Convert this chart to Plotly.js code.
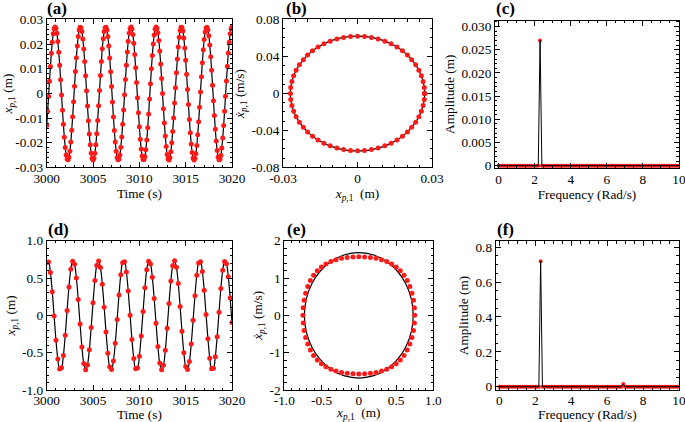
<!DOCTYPE html>
<html>
<head>
<meta charset="utf-8">
<script src="https://cdn.plot.ly/plotly-3.0.1.min.js"></script>
<style>html,body{margin:0;padding:0;background:#fff;}#chart{width:685px;height:422px;}</style>
</head>
<body>
<div id="chart"></div>
<script>
// ---- (a) time history, small amplitude ----
const timeA = [
3000,3000.1,3000.2,3000.3,3000.4,3000.5,3000.6,3000.7,3000.8,3000.9,
3001,3001.1,3001.2,3001.3,3001.4,3001.5,3001.6,3001.7,3001.8,3001.9,
3002,3002.1,3002.2,3002.3,3002.4,3002.5,3002.6,3002.7,3002.8,3002.9,
3003,3003.1,3003.2,3003.3,3003.4,3003.5,3003.6,3003.7,3003.8,3003.9,
3004,3004.1,3004.2,3004.3,3004.4,3004.5,3004.6,3004.7,3004.8,3004.9,
3005,3005.1,3005.2,3005.3,3005.4,3005.5,3005.6,3005.7,3005.8,3005.9,
3006,3006.1,3006.2,3006.3,3006.4,3006.5,3006.6,3006.7,3006.8,3006.9,
3007,3007.1,3007.2,3007.3,3007.4,3007.5,3007.6,3007.7,3007.8,3007.9,
3008,3008.1,3008.2,3008.3,3008.4,3008.5,3008.6,3008.7,3008.8,3008.9,
3009,3009.1,3009.2,3009.3,3009.4,3009.5,3009.6,3009.7,3009.8,3009.9,
3010,3010.1,3010.2,3010.3,3010.4,3010.5,3010.6,3010.7,3010.8,3010.9,
3011,3011.1,3011.2,3011.3,3011.4,3011.5,3011.6,3011.7,3011.8,3011.9,
3012,3012.1,3012.2,3012.3,3012.4,3012.5,3012.6,3012.7,3012.8,3012.9,
3013,3013.1,3013.2,3013.3,3013.4,3013.5,3013.6,3013.7,3013.8,3013.9,
3014,3014.1,3014.2,3014.3,3014.4,3014.5,3014.6,3014.7,3014.8,3014.9,
3015,3015.1,3015.2,3015.3,3015.4,3015.5,3015.6,3015.7,3015.8,3015.9,
3016,3016.1,3016.2,3016.3,3016.4,3016.5,3016.6,3016.7,3016.8,3016.9,
3017,3017.1,3017.2,3017.3,3017.4,3017.5,3017.6,3017.7,3017.8,3017.9,
3018,3018.1,3018.2,3018.3,3018.4,3018.5,3018.6,3018.7,3018.8,3018.9,
3019,3019.1,3019.2,3019.3,3019.4,3019.5,3019.6,3019.7,3019.8,3019.9,
3020];
const dispA = [
-0.0130,-0.0073,-0.0012,0.0050,0.0109,0.0163,0.0208,0.0242,0.0263,0.0270,
0.0264,0.0244,0.0211,0.0167,0.0115,0.0056,-0.0006,-0.0068,-0.0125,-0.0177,
-0.0219,-0.0249,-0.0266,-0.0269,-0.0258,-0.0234,-0.0197,-0.0149,-0.0094,-0.0033,
0.0029,0.0089,0.0145,0.0193,0.0231,0.0257,0.0269,0.0267,0.0251,0.0221,
0.0180,0.0130,0.0072,0.0011,-0.0051,-0.0110,-0.0164,-0.0208,-0.0242,-0.0263,
-0.0270,-0.0263,-0.0242,-0.0208,-0.0163,-0.0109,-0.0050,0.0012,0.0073,0.0130,
0.0181,0.0222,0.0251,0.0267,0.0269,0.0257,0.0231,0.0193,0.0144,0.0088,
0.0028,-0.0034,-0.0095,-0.0150,-0.0197,-0.0234,-0.0259,-0.0269,-0.0266,-0.0249,
-0.0218,-0.0176,-0.0125,-0.0067,-0.0005,0.0057,0.0115,0.0168,0.0212,0.0245,
0.0264,0.0270,0.0261,0.0239,0.0204,0.0158,0.0104,0.0045,-0.0017,-0.0078,
-0.0135,-0.0185,-0.0225,-0.0253,-0.0268,-0.0268,-0.0255,-0.0228,-0.0189,-0.0139,
-0.0083,-0.0022,0.0040,0.0100,0.0154,0.0201,0.0237,0.0260,0.0270,0.0265,
0.0246,0.0215,0.0172,0.0120,0.0061,0.0000,-0.0062,-0.0120,-0.0172,-0.0215,
-0.0247,-0.0265,-0.0270,-0.0260,-0.0236,-0.0200,-0.0154,-0.0099,-0.0039,0.0023,
0.0084,0.0140,0.0189,0.0228,0.0255,0.0269,0.0268,0.0253,0.0225,0.0184,
0.0135,0.0078,0.0016,-0.0045,-0.0105,-0.0159,-0.0205,-0.0239,-0.0262,-0.0270,
-0.0264,-0.0244,-0.0211,-0.0167,-0.0115,-0.0056,0.0006,0.0068,0.0125,0.0177,
0.0219,0.0249,0.0266,0.0269,0.0258,0.0234,0.0197,0.0149,0.0094,0.0033,
-0.0029,-0.0089,-0.0145,-0.0193,-0.0231,-0.0257,-0.0269,-0.0267,-0.0251,-0.0221,
-0.0180,-0.0130,-0.0072,-0.0011,0.0051,0.0110,0.0164,0.0208,0.0242,0.0263,
0.0270];

// ---- (b) phase portrait, small amplitude ----
const phaseBx = [
0.0270,0.0269,0.0264,0.0257,0.0247,0.0234,0.0218,0.0201,0.0181,0.0159,0.0135,0.0110,0.0083,0.0056,0.0028,0,
-0.0028,-0.0056,-0.0083,-0.0110,-0.0135,-0.0159,-0.0181,-0.0201,-0.0218,-0.0234,-0.0247,-0.0257,-0.0264,-0.0269,-0.0270,
-0.0269,-0.0264,-0.0257,-0.0247,-0.0234,-0.0218,-0.0201,-0.0181,-0.0159,-0.0135,-0.0110,-0.0083,-0.0056,-0.0028,0,
0.0028,0.0056,0.0083,0.0110,0.0135,0.0159,0.0181,0.0201,0.0218,0.0234,0.0247,0.0257,0.0264,0.0269,0.0270];
const phaseBv = [
0,0.0065,0.0129,0.0192,0.0252,0.0310,0.0364,0.0415,0.0461,0.0502,0.0537,0.0566,0.0590,0.0606,0.0617,0.0620,
0.0617,0.0606,0.0590,0.0566,0.0537,0.0502,0.0461,0.0415,0.0364,0.0310,0.0252,0.0192,0.0129,0.0065,0,
-0.0065,-0.0129,-0.0192,-0.0252,-0.0310,-0.0364,-0.0415,-0.0461,-0.0502,-0.0537,-0.0566,-0.0590,-0.0606,-0.0617,-0.0620,
-0.0617,-0.0606,-0.0590,-0.0566,-0.0537,-0.0502,-0.0461,-0.0415,-0.0364,-0.0310,-0.0252,-0.0192,-0.0129,-0.0065,0];

// ---- (c),(f) spectra ----
const freq = [
0,0.1,0.2,0.3,0.4,0.5,0.6,0.7,0.8,0.9,1,1.1,1.2,1.3,1.4,1.5,1.6,1.7,1.8,1.9,
2,2.1,2.2,2.3,2.4,2.5,2.6,2.7,2.8,2.9,3,3.1,3.2,3.3,3.4,3.5,3.6,3.7,3.8,3.9,
4,4.1,4.2,4.3,4.4,4.5,4.6,4.7,4.8,4.9,5,5.1,5.2,5.3,5.4,5.5,5.6,5.7,5.8,5.9,
6,6.1,6.2,6.3,6.4,6.5,6.6,6.7,6.8,6.9,7,7.1,7.2,7.3,7.4,7.5,7.6,7.7,7.8,7.9,
8,8.1,8.2,8.3,8.4,8.5,8.6,8.7,8.8,8.9,9,9.1,9.2,9.3,9.4,9.5,9.6,9.7,9.8,9.9,10];
const ampC = [
0,0,0,0,0,0,0,0,0,0,0,0,0,0,0,0,0,0,0,0,
0,0,0,0.027,0,0,0,0,0,0,0,0,0,0,0,0,0,0,0,0,
0,0,0,0,0,0,0,0,0,0,0,0,0,0,0,0,0,0,0,0,
0,0,0,0,0,0,0,0,0,0,0,0,0,0,0,0,0,0,0,0,
0,0,0,0,0,0,0,0,0,0,0,0,0,0,0,0,0,0,0,0,0];
const ampF = [
0,0,0,0,0,0,0,0,0,0,0,0,0,0,0,0,0,0,0,0,
0,0,0,0.72,0,0,0,0,0,0,0,0,0,0,0,0,0,0,0,0,
0,0,0,0,0,0,0,0,0,0,0,0,0,0,0,0,0,0,0,0,
0,0,0,0,0,0,0,0,0,0.015,0,0,0,0,0,0,0,0,0,0,
0,0,0,0,0,0,0,0,0,0,0,0,0,0,0,0,0,0,0,0,0];

// ---- (d) time history, large amplitude ----
const timeD = [
3000,3000.2,3000.4,3000.6,3000.8,3001,3001.2,3001.4,3001.6,3001.8,
3002,3002.2,3002.4,3002.6,3002.8,3003,3003.2,3003.4,3003.6,3003.8,
3004,3004.2,3004.4,3004.6,3004.8,3005,3005.2,3005.4,3005.6,3005.8,
3006,3006.2,3006.4,3006.6,3006.8,3007,3007.2,3007.4,3007.6,3007.8,
3008,3008.2,3008.4,3008.6,3008.8,3009,3009.2,3009.4,3009.6,3009.8,
3010,3010.2,3010.4,3010.6,3010.8,3011,3011.2,3011.4,3011.6,3011.8,
3012,3012.2,3012.4,3012.6,3012.8,3013,3013.2,3013.4,3013.6,3013.8,
3014,3014.2,3014.4,3014.6,3014.8,3015,3015.2,3015.4,3015.6,3015.8,
3016,3016.2,3016.4,3016.6,3016.8,3017,3017.2,3017.4,3017.6,3017.8,
3018,3018.2,3018.4,3018.6,3018.8,3019,3019.2,3019.4,3019.6,3019.8,
3020];
const dispD = [
0.707,0.715,0.574,0.315,-0.010,-0.333,-0.586,-0.718,-0.702,-0.539,
-0.265,0.064,0.380,0.617,0.726,0.685,0.501,0.214,-0.117,-0.425,
-0.644,-0.730,-0.664,-0.461,-0.162,0.170,0.467,0.668,0.729,0.640,
0.418,0.109,-0.222,-0.508,-0.688,-0.725,-0.612,-0.372,-0.055,0.273,
0.545,0.704,0.717,0.581,0.325,0.001,-0.323,-0.579,-0.716,-0.705,
-0.547,-0.276,0.053,0.370,0.611,0.725,0.688,0.509,0.225,-0.106,
-0.416,-0.639,-0.729,-0.669,-0.469,-0.173,0.160,0.459,0.663,0.730,
0.645,0.427,0.120,-0.212,-0.500,-0.684,-0.726,-0.618,-0.382,-0.066,
0.263,0.538,0.701,0.719,0.588,0.335,0.012,-0.312,-0.573,-0.714,
-0.707,-0.554,-0.286,0.042,0.360,0.605,0.723,0.692,0.518,0.236,
-0.095];

// ---- (e) phase portrait, large amplitude ----
const phaseEx = [
0.750,0.746,0.734,0.713,0.685,0.650,0.607,0.557,0.502,0.441,0.375,0.305,0.232,0.156,0.078,0,
-0.078,-0.156,-0.232,-0.305,-0.375,-0.441,-0.502,-0.557,-0.607,-0.650,-0.685,-0.713,-0.734,-0.746,-0.750,
-0.746,-0.734,-0.713,-0.685,-0.650,-0.607,-0.557,-0.502,-0.441,-0.375,-0.305,-0.232,-0.156,-0.078,0,
0.078,0.156,0.232,0.305,0.375,0.441,0.502,0.557,0.607,0.650,0.685,0.713,0.734,0.746];
const phaseEv = [
0,0.204,0.404,0.594,0.770,0.931,1.072,1.194,1.296,1.379,1.444,1.493,1.528,1.552,1.566,1.570,
1.566,1.552,1.528,1.493,1.444,1.379,1.296,1.194,1.072,0.931,0.770,0.594,0.404,0.204,0,
-0.204,-0.404,-0.594,-0.770,-0.931,-1.072,-1.194,-1.296,-1.379,-1.444,-1.493,-1.528,-1.552,-1.566,-1.570,
-1.566,-1.552,-1.528,-1.493,-1.444,-1.379,-1.296,-1.194,-1.072,-0.931,-0.770,-0.594,-0.404,-0.204];
const orbitEx = [0.730,0.705,0.632,0.516,0.365,0.189,0,-0.189,-0.365,-0.516,-0.632,-0.705,-0.730,
-0.705,-0.632,-0.516,-0.365,-0.189,0,0.189,0.365,0.516,0.632,0.705,0.730];
const orbitEv = [0,0.435,0.840,1.188,1.455,1.623,1.680,1.623,1.455,1.188,0.840,0.435,0,
-0.435,-0.840,-1.188,-1.455,-1.623,-1.680,-1.623,-1.455,-1.188,-0.840,-0.435,0];

// ---- tick labels ----
const tickTimeV = [3000,3005,3010,3015,3020];
const tickTimeT = ['3000','3005','3010','3015','3020'];
const tickAyV = [-0.03,-0.02,-0.01,0,0.01,0.02,0.03];
const tickAyT = ['-0.03','-0.02','-0.01','0','0.01','0.02','0.03'];
const tickBxV = [-0.03,0,0.03];
const tickBxT = ['-0.03','0','0.03'];
const tickByV = [-0.08,-0.04,0,0.04,0.08];
const tickByT = ['-0.08','-0.04','0','0.04','0.08'];
const tickFreqV = [0,2,4,6,8,10];
const tickFreqT = ['0','2','4','6','8','10'];
const tickCyV = [0,0.005,0.01,0.015,0.02,0.025,0.03];
const tickCyT = ['0','0.005','0.010','0.015','0.020','0.025','0.030'];
const tickDyV = [-1,-0.5,0,0.5,1];
const tickDyT = ['-1.0','-0.5','0','0.5','1.0'];
const tickExV = [-1,-0.5,0,0.5,1];
const tickExT = ['-1.0','-0.5','0','0.5','1.0'];
const tickEyV = [-2,-1,0,1,2];
const tickEyT = ['-2','-1','0','1','2'];
const tickFyV = [0,0.2,0.4,0.6,0.8];
const tickFyT = ['0','0.2','0.4','0.6','0.8'];

const RED = '#ff1a1a';
const FONT = 'Liberation Serif';
const FS = 13.3;

const traces = [
  {x: timeA, y: dispA, xaxis:'x', yaxis:'y', mode:'lines+markers', line:{color:'black', width:1.2, shape:'spline'}, marker:{color:RED, size:5}},
  {x: phaseBx.concat([phaseBx[0]]), y: phaseBv.concat([phaseBv[0]]), xaxis:'x2', yaxis:'y2', mode:'lines+markers', line:{color:'black', width:1.2, shape:'spline'}, marker:{color:RED, size:5}},
  {x: freq, y: ampC, xaxis:'x3', yaxis:'y3', mode:'markers', marker:{color:RED, size:4}},
  {x: freq, y: ampC, xaxis:'x3', yaxis:'y3', mode:'lines', line:{color:'black', width:1}},
  {x: timeD, y: dispD, xaxis:'x4', yaxis:'y4', mode:'lines+markers', line:{color:'black', width:1.2, shape:'spline'}, marker:{color:RED, size:5}},
  {x: orbitEx, y: orbitEv, xaxis:'x5', yaxis:'y5', mode:'lines', line:{color:'black', width:1.2, shape:'spline'}},
  {x: phaseEx, y: phaseEv, xaxis:'x5', yaxis:'y5', mode:'markers', marker:{color:RED, size:5}},
  {x: freq, y: ampF, xaxis:'x6', yaxis:'y6', mode:'markers', marker:{color:RED, size:4}},
  {x: freq, y: ampF, xaxis:'x6', yaxis:'y6', mode:'lines', line:{color:'black', width:1}}
];

function ax(extra) {
  const base = {
    showline:true, linecolor:'black', linewidth:1, mirror:'allticks',
    ticks:'inside', ticklen:5, tickwidth:1, tickcolor:'black',
    showgrid:false, zeroline:false, tickmode:'array', ticklabeloverflow:'allow',
    tickfont:{family:FONT, size:FS, color:'black'},
    minor:{ticks:'inside', ticklen:2.5, tickwidth:1, tickcolor:'black', tickmode:'linear', showgrid:false},
    fixedrange:true
  };
  const o = Object.assign({}, base, extra);
  o.minor = Object.assign({}, base.minor, extra.minor || {});
  return o;
}
const titleFont = {family:FONT, size:FS, color:'black'};
const xp1 = '<i>x</i><sub><i>p</i>,1</sub>';

const rowTop = [0.6031, 0.9538];
const rowBot = [0.0758, 0.4296];

const layout = {
  width:685, height:422, margin:{l:0, r:0, t:0, b:0},
  paper_bgcolor:'white', plot_bgcolor:'white', showlegend:false,
  font:{family:FONT, color:'black'},
  xaxis: ax({domain:[0.0682,0.3387], anchor:'y', range:[3000,3020.001], tickvals:tickTimeV, ticktext:tickTimeT, ticklabelstandoff:-1, minor:{tick0:3000, dtick:1}, title:{text:'Time (s)', font:titleFont, standoff:3}}),
  yaxis: ax({domain:rowTop, anchor:'x', range:[-0.03,0.03], tickvals:tickAyV, ticktext:tickAyT, minor:{tick0:0, dtick:0.002}, title:{text:xp1+' (m)', font:titleFont, standoff:3}}),
  xaxis2: ax({domain:[0.4131,0.6307], anchor:'y2', range:[-0.03,0.03], tickvals:tickBxV, ticktext:tickBxT, ticklabelstandoff:-1, minor:{tick0:0, dtick:0.005}, title:{text:xp1+' \u00a0(m)', font:titleFont, standoff:3}}),
  yaxis2: ax({domain:rowTop, anchor:'x2', range:[-0.08,0.08], tickvals:tickByV, ticktext:tickByT, minor:{tick0:0, dtick:0.01}, title:{text:'<i>\u1e8b</i><sub><i>p</i>,1</sub> (m/s)', font:titleFont, standoff:3}}),
  xaxis3: ax({domain:[0.7226,0.9912], anchor:'y3', range:[-0.2,10.001], tickvals:tickFreqV, ticktext:tickFreqT, ticklabelstandoff:-1, minor:{tick0:0, dtick:0.5}, title:{text:'Frequency (Rad/s)', font:titleFont, standoff:1}}),
  yaxis3: ax({domain:[0.6019,0.9514], anchor:'x3', range:[-0.0005,0.0313], tickvals:tickCyV, ticktext:tickCyT, minor:{tick0:0, dtick:0.001}, title:{text:'Amplitude (m)', font:titleFont, standoff:3}}),
  xaxis4: ax({domain:[0.0682,0.3387], anchor:'y4', range:[3000,3020.001], tickvals:tickTimeV, ticktext:tickTimeT, ticklabelstandoff:-2, minor:{tick0:3000, dtick:1}, title:{text:'Time (s)', font:titleFont, standoff:1}}),
  yaxis4: ax({domain:rowBot, anchor:'x4', range:[-1,1], tickvals:tickDyV, ticktext:tickDyT, minor:{tick0:0, dtick:0.1}, title:{text:xp1+' (m)', font:titleFont, standoff:3}}),
  xaxis5: ax({domain:[0.4150,0.6326], anchor:'y5', range:[-1,1.0001], tickvals:tickExV, ticktext:tickExT, ticklabelstandoff:-2, minor:{tick0:0, dtick:0.1}, title:{text:xp1+' \u00a0(m)', font:titleFont, standoff:1}}),
  yaxis5: ax({domain:rowBot, anchor:'x5', range:[-2,2], tickvals:tickEyV, ticktext:tickEyT, minor:{tick0:0, dtick:0.2}, title:{text:'<i>\u1e8b</i><sub><i>p</i>,1</sub> (m/s)', font:titleFont, standoff:3}}),
  xaxis6: ax({domain:[0.7237,0.9912], anchor:'y6', range:[-0.2,10.001], tickvals:tickFreqV, ticktext:tickFreqT, ticklabelstandoff:-2, minor:{tick0:0, dtick:0.5}, title:{text:'Frequency (Rad/s)', font:titleFont, standoff:1}}),
  yaxis6: ax({domain:[0.0758,0.4289], anchor:'x6', range:[-0.019,0.836], tickvals:tickFyV, ticktext:tickFyT, minor:{tick0:0, dtick:0.05}, title:{text:'Amplitude (m)', font:titleFont, standoff:3}}),
  annotations: [
    ['(a)',0.0657,0.981],['(b)',0.4146,0.981],['(c)',0.7212,0.979],
    ['(d)',0.0672,0.455],['(e)',0.416,0.455],['(f)',0.7226,0.455]
  ].map(a => ({text:'<b>'+a[0]+'</b>', x:a[1], y:a[2], xref:'paper', yref:'paper', xanchor:'left', yanchor:'middle', showarrow:false, font:{family:FONT, size:17, color:'black'}}))
};

Plotly.newPlot('chart', traces, layout, {staticPlot:true, displayModeBar:false});
</script>
</body>
</html>
